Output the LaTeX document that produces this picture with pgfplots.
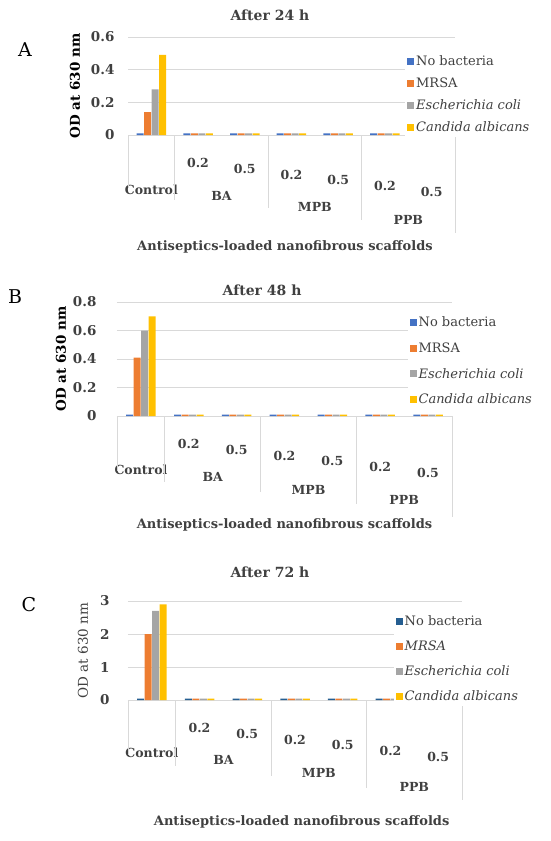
\documentclass[border=0pt]{standalone}
\usepackage{fontspec}
\setmainfont{DejaVu Serif}
\usepackage{pgfplots}
\pgfplotsset{compat=1.18}
\definecolor{cNo}{HTML}{4472C4}
\definecolor{cNoC}{HTML}{255E91}
\definecolor{cMR}{HTML}{ED7D31}
\definecolor{cEC}{HTML}{A5A5A5}
\definecolor{cCA}{HTML}{FFC000}
\definecolor{txt}{HTML}{404040}
\definecolor{gridc}{HTML}{D9D9D9}

\tikzset{grp/.style={font=\fontsize{12.5}{14}\selectfont\bfseries, text=txt},
         sep/.style={gridc, line width=0.8pt}}
\pgfplotsset{
 panel/.style={
  scale only axis, xmin=-0.5, xmax=6.5, ymin=0,
  ybar=0.5pt, bar width=7pt, clip=false,
  axis line style={draw=none},
  major tick length=0pt,
  ymajorgrids, grid style={gridc, line width=0.8pt},
  xtick={1,2,3,4,5,6}, xticklabels={0.2,0.5,0.2,0.5,0.2,0.5},
  xticklabel style={anchor=center, yshift={-28pt-5.8pt*\ticknum}, font=\fontsize{12.5}{14}\selectfont\bfseries, text=txt},
  yticklabel style={font=\fontsize{13.5}{15}\selectfont\bfseries, text=txt},
  /pgf/number format/assume math mode=true,
  legend image code/.code={\fill[##1, draw=none] (0pt,-3.5pt) rectangle (7pt,3.5pt);},
  legend style={anchor=north west, draw=none, fill=white, font=\fontsize{13}{15}\selectfont, text=txt, inner sep=2pt, cells={anchor=west}},
  legend cell align=left,
  every axis title/.style={anchor=center, font=\fontsize{14}{16}\selectfont\bfseries, text=txt},
  every axis x label/.style={anchor=center, font=\fontsize{13}{15}\selectfont\bfseries, text=txt},
  every axis y label/.style={anchor=center, rotate=90, font=\fontsize{13.5}{15}\selectfont\bfseries, text=black},
 },
}
% #1..#4: Control, BA, MPB, PPB offsets; #5..#9 separator lengths
\newcommand{\decor}[9]{%
  \node[grp, yshift=-#1pt] at (axis cs:0,0) {Control};
  \node[grp, yshift=-#2pt] at (axis cs:1.5,0) {BA};
  \node[grp, yshift=-#3pt] at (axis cs:3.5,0) {MPB};
  \node[grp, yshift=-#4pt] at (axis cs:5.5,0) {PPB};
  \draw[sep] (axis cs:-0.5,0) -- ++(0pt,-#5pt);
  \draw[sep] (axis cs:0.5,0) -- ++(0pt,-#6pt);
  \draw[sep] (axis cs:2.5,0) -- ++(0pt,-#7pt);
  \draw[sep] (axis cs:4.5,0) -- ++(0pt,-#8pt);
  \draw[sep] (axis cs:6.5,0) -- ++(0pt,-#9pt);
}

\begin{document}
\begin{tikzpicture}
\useasboundingbox (0pt,0pt) rectangle (550pt,-841pt);
\node[font=\fontsize{19}{22}\selectfont] at (25pt,-50pt) {A};
\node[font=\fontsize{19}{22}\selectfont] at (15pt,-297pt) {B};
\node[font=\fontsize{19}{22}\selectfont] at (29pt,-605pt) {C};

% ---------- A: 24 h ----------
\begin{axis}[panel, at={(128pt,-135pt)}, anchor=south west, width=327pt, height=98pt,
  ymax=0.6, ytick={0,0.2,0.4,0.6}, yticklabel style={xshift=-10pt},
  title={After 24 h}, title style={at={(axis description cs:0.434,1)}, yshift=22pt},
  xlabel={Antiseptics-loaded nanofibrous scaffolds},
  xlabel style={at={(axis description cs:0.48,0)}, yshift=-112pt},
  ylabel={OD at 630 nm}, ylabel style={at={(axis description cs:-0.162,0.5)}},
  legend style={at={(rel axis cs:0.847,0.85)}, row sep=6.7pt}]
\addplot[fill=cNo, draw=none] coordinates {(0,0.01) (1,0.01) (2,0.01) (3,0.01) (4,0.01) (5,0.01) (6,0.01)};
\addplot[fill=cMR, draw=none] coordinates {(0,0.14) (1,0.01) (2,0.01) (3,0.01) (4,0.01) (5,0.01) (6,0.01)};
\addplot[fill=cEC, draw=none] coordinates {(0,0.28) (1,0.01) (2,0.01) (3,0.01) (4,0.01) (5,0.01) (6,0.01)};
\addplot[fill=cCA, draw=none] coordinates {(0,0.49) (1,0.01) (2,0.01) (3,0.01) (4,0.01) (5,0.01) (6,0.01)};
\legend{No bacteria, MRSA, \textit{Escherichia coli}, \textit{Candida albicans}}
\decor{55}{61}{72}{85}{53}{65}{73}{85}{98}
\end{axis}

% ---------- B: 48 h ----------
\begin{axis}[panel, at={(117pt,-416pt)}, anchor=south west, width=335pt, height=114pt,
  ymax=0.8, ytick={0,0.2,0.4,0.6,0.8}, yticklabel style={xshift=-17pt},
  title={After 48 h}, title style={at={(axis description cs:0.433,1)}, yshift=12pt},
  xlabel={Antiseptics-loaded nanofibrous scaffolds},
  xlabel style={at={(axis description cs:0.50,0)}, yshift=-109pt},
  ylabel={OD at 630 nm}, ylabel style={at={(axis description cs:-0.167,0.5)}},
  legend style={at={(rel axis cs:0.867,0.905)}, row sep=10.3pt}]
\addplot[fill=cNo, draw=none] coordinates {(0,0.01) (1,0.01) (2,0.01) (3,0.01) (4,0.01) (5,0.01) (6,0.01)};
\addplot[fill=cMR, draw=none] coordinates {(0,0.41) (1,0.01) (2,0.01) (3,0.01) (4,0.01) (5,0.01) (6,0.01)};
\addplot[fill=cEC, draw=none] coordinates {(0,0.60) (1,0.01) (2,0.01) (3,0.01) (4,0.01) (5,0.01) (6,0.01)};
\addplot[fill=cCA, draw=none] coordinates {(0,0.70) (1,0.01) (2,0.01) (3,0.01) (4,0.01) (5,0.01) (6,0.01)};
\legend{No bacteria, MRSA, \textit{Escherichia coli}, \textit{Candida albicans}}
\decor{54}{61}{74}{84}{55}{66}{76}{88}{101}
\end{axis}

% ---------- C: 72 h ----------
\begin{axis}[panel, at={(128pt,-700pt)}, anchor=south west, width=334pt, height=99pt,
  ymax=3, ytick={0,1,2,3}, yticklabel style={xshift=-15pt},
  title={After 72 h}, title style={at={(axis description cs:0.425,1)}, yshift=29pt},
  xlabel={Antiseptics-loaded nanofibrous scaffolds},
  xlabel style={at={(axis description cs:0.52,0)}, yshift=-122pt},
  ylabel={OD at 630 nm}, ylabel style={at={(axis description cs:-0.135,0.5)}, font=\fontsize{13.5}{15}\selectfont, text=txt},
  legend style={at={(rel axis cs:0.795,0.89)}, row sep=9.7pt}]
\addplot[fill=cNoC, draw=none] coordinates {(0,0.04) (1,0.04) (2,0.04) (3,0.04) (4,0.04) (5,0.04) (6,0.04)};
\addplot[fill=cMR, draw=none] coordinates {(0,2.00) (1,0.04) (2,0.04) (3,0.04) (4,0.04) (5,0.04) (6,0.04)};
\addplot[fill=cEC, draw=none] coordinates {(0,2.70) (1,0.04) (2,0.04) (3,0.04) (4,0.04) (5,0.04) (6,0.04)};
\addplot[fill=cCA, draw=none] coordinates {(0,2.90) (1,0.04) (2,0.04) (3,0.04) (4,0.04) (5,0.04) (6,0.04)};
\legend{No bacteria, \textit{MRSA}, \textit{Escherichia coli}, \textit{Candida albicans}}
\decor{53}{60}{73}{87}{55}{66}{76}{88}{100}
\end{axis}
\end{tikzpicture}
\end{document}
